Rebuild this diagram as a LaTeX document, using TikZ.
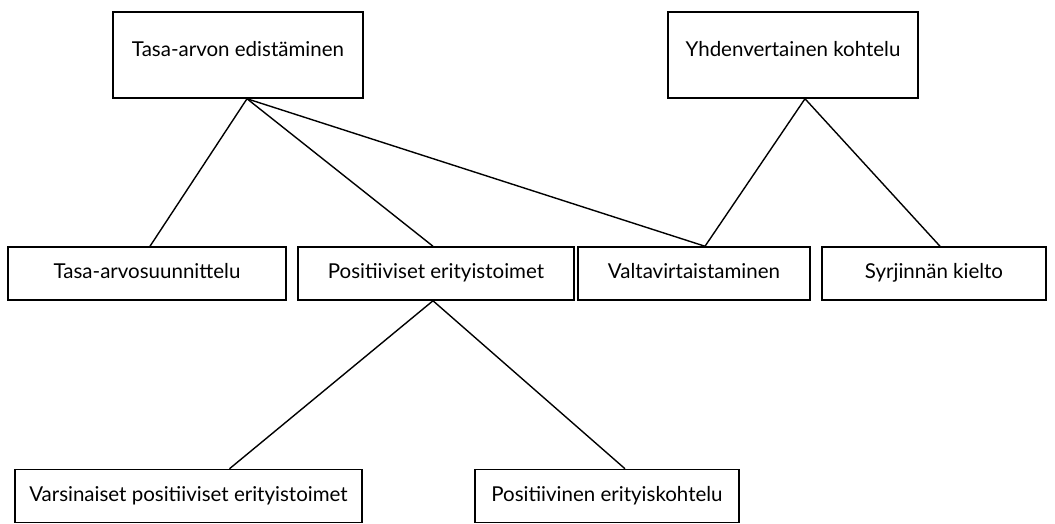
\documentclass[tikz,border=0pt]{standalone}
\usepackage{fontspec}
\setmainfont{Lato}
\usetikzlibrary{positioning, calc}

\begin{document}
\begin{tikzpicture}[
    x=1pt, y=-1pt,
    box/.style={draw, rectangle, line width=1.5pt, inner sep=0pt,
                font=\fontsize{20.5}{24}\selectfont, align=center,
                text height=15pt, text depth=5pt},
    topbox/.style={box, minimum width=250pt, minimum height=86pt,
                   text depth=13pt},
    midbox/.style={box, minimum height=53pt},
    link/.style={line width=1.4pt}
]
\useasboundingbox (0,0) rectangle (1055,523);
% Top row
\node[topbox] (tae) at (238,55) {Tasa-arvon edistäminen};
\node[topbox] (yk) at (793,55) {Yhdenvertainen kohtelu};
% Middle row
\node[midbox, minimum width=278pt] (tas) at (147,273.5) {Tasa-arvosuunnittelu};
\node[midbox, minimum width=276pt] (pet) at (436,273.5) {Positiiviset erityistoimet};
\node[midbox, minimum width=232pt] (vt) at (694,273.5) {Valtavirtaistaminen};
\node[midbox, minimum width=224pt] (sk) at (934,273.5) {Syrjinnän kielto};
% Bottom row
\node[midbox, minimum width=347pt] (vpe) at (188.5,496) {Varsinaiset positiiviset erityistoimet};
\node[midbox, minimum width=264pt] (pek) at (607,496) {Positiivinen erityiskohtelu};
% Links
\coordinate (tae_a) at ([xshift=9pt]tae.south);
\coordinate (yk_a) at ([xshift=12pt]yk.south);
\coordinate (pet_a) at ([xshift=-3pt]pet.south);
\draw[link] (tae_a) -- ([xshift=3pt]tas.north);
\draw[link] (tae_a) -- ([xshift=-3pt]pet.north);
\draw[link] (tae_a) -- ([xshift=11pt]vt.north);
\draw[link] (yk_a) -- ([xshift=11pt]vt.north);
\draw[link] (yk_a) -- ([xshift=6pt]sk.north);
\draw[link] (pet_a) -- ([xshift=41pt]vpe.north);
\draw[link] (pet_a) -- ([xshift=18pt]pek.north);
\end{tikzpicture}
\end{document}
